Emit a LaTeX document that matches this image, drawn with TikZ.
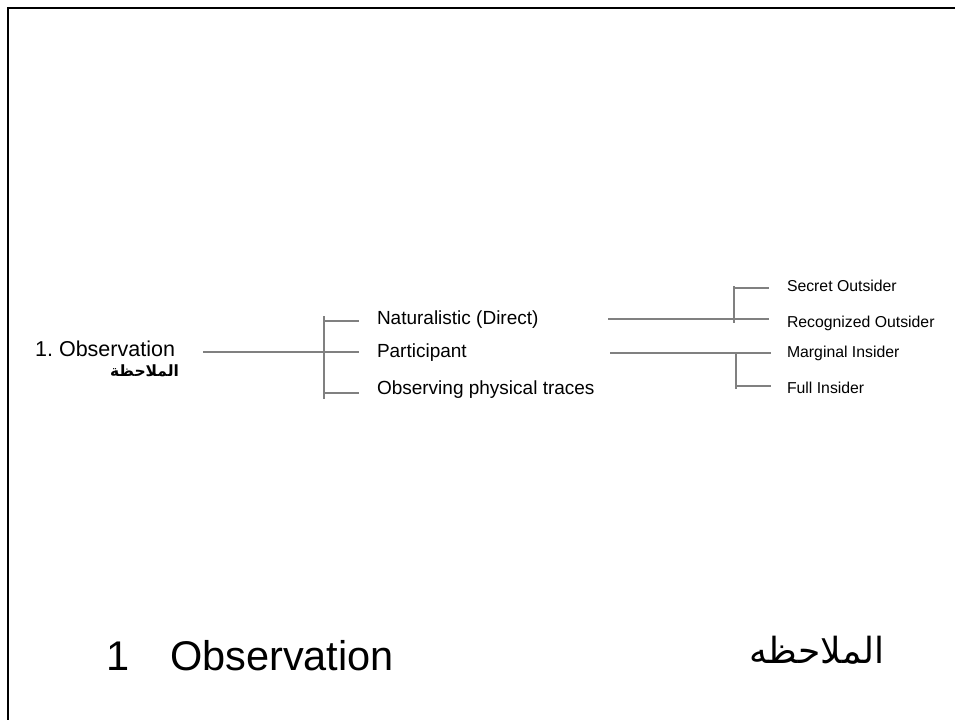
\documentclass[tikz,border=0pt]{standalone}
\usepackage{fontspec}
\setmainfont{Liberation Sans}
\newfontfamily\arabicfont[Script=Arabic]{DejaVu Sans}
\TeXXeTstate=1
\frenchspacing
\begin{document}
\begin{tikzpicture}[x=1bp,y=-1bp,
  lbl/.style={inner sep=0pt,outer sep=0pt,text=black},
  conn/.style={draw={rgb,255:red,128;green,128;blue,128},line width=1.2bp},
  frame/.style={draw=black,line width=2.6bp}]
\useasboundingbox (0,0) rectangle (955,720);
% frame
\coordinate (fl) at (8,720);
\coordinate (fc) at (8,8);
\coordinate (fr) at (955,8);
\draw[frame] (fl) -- (fc) -- (fr);
% left texts
\node[lbl,anchor=base east,font=\fontsize{21.5bp}{26bp}\selectfont] (obs) at (175,356) {1. Observation};
\node[lbl,anchor=base east,font=\fontsize{15.5bp}{18bp}\selectfont\arabicfont\bfseries] (obsar) at (179,376) {\beginR الملاحظة\endR};
% middle labels
\node[lbl,anchor=base west,font=\fontsize{19bp}{23bp}\selectfont] (nat) at (377,324) {Naturalistic (Direct)};
\node[lbl,anchor=base west,font=\fontsize{19bp}{23bp}\selectfont] (par) at (377,357) {Participant};
\node[lbl,anchor=base west,font=\fontsize{19bp}{23bp}\selectfont] (phy) at (377,394) {Observing physical traces};
% right labels
\node[lbl,anchor=base west,font=\fontsize{15.8bp}{19bp}\selectfont] (sec) at (787,291) {Secret Outsider};
\node[lbl,anchor=base west,font=\fontsize{15.8bp}{19bp}\selectfont] (rec) at (787,327) {Recognized Outsider};
\node[lbl,anchor=base west,font=\fontsize{15.8bp}{19bp}\selectfont] (mar) at (787,357) {Marginal Insider};
\node[lbl,anchor=base west,font=\fontsize{15.8bp}{19bp}\selectfont] (ful) at (787,393) {Full Insider};
% bottom title
\node[lbl,anchor=base west,font=\fontsize{41.5bp}{48bp}\selectfont] (one) at (106,670) {1};
\node[lbl,anchor=base west,font=\fontsize{41.5bp}{48bp}\selectfont] (tobs) at (170,670) {Observation};
\node[lbl,anchor=base east,font=\fontsize{36bp}{44bp}\selectfont\arabicfont] (tar) at (884,663) {\beginR الملاحظه\endR};
% left bracket
\coordinate (a0) at (203,352);
\coordinate (a1) at (359,352);
\coordinate (av1) at (324,316);
\coordinate (av2) at (324,399);
\coordinate (at1) at (324,321);
\coordinate (at2) at (359,321);
\coordinate (ab1) at (324,393);
\coordinate (ab2) at (359,393);
\draw[conn] (a0) -- (a1);
\draw[conn] (av1) -- (av2);
\draw[conn] (at1) -- (at2);
\draw[conn] (ab1) -- (ab2);
% top right bracket
\coordinate (b0) at (608,319);
\coordinate (b1) at (769,319);
\coordinate (bv1) at (734,286);
\coordinate (bv2) at (734,323);
\coordinate (bt1) at (734,288);
\coordinate (bt2) at (769,288);
\draw[conn] (b0) -- (b1);
\draw[conn] (bv1) -- (bv2);
\draw[conn] (bt1) -- (bt2);
% bottom right bracket
\coordinate (c0) at (610,353);
\coordinate (c1) at (771,353);
\coordinate (cv1) at (736,353);
\coordinate (cv2) at (736,389);
\coordinate (ct1) at (736,386);
\coordinate (ct2) at (771,386);
\draw[conn] (c0) -- (c1);
\draw[conn] (cv1) -- (cv2);
\draw[conn] (ct1) -- (ct2);
\end{tikzpicture}
\end{document}
